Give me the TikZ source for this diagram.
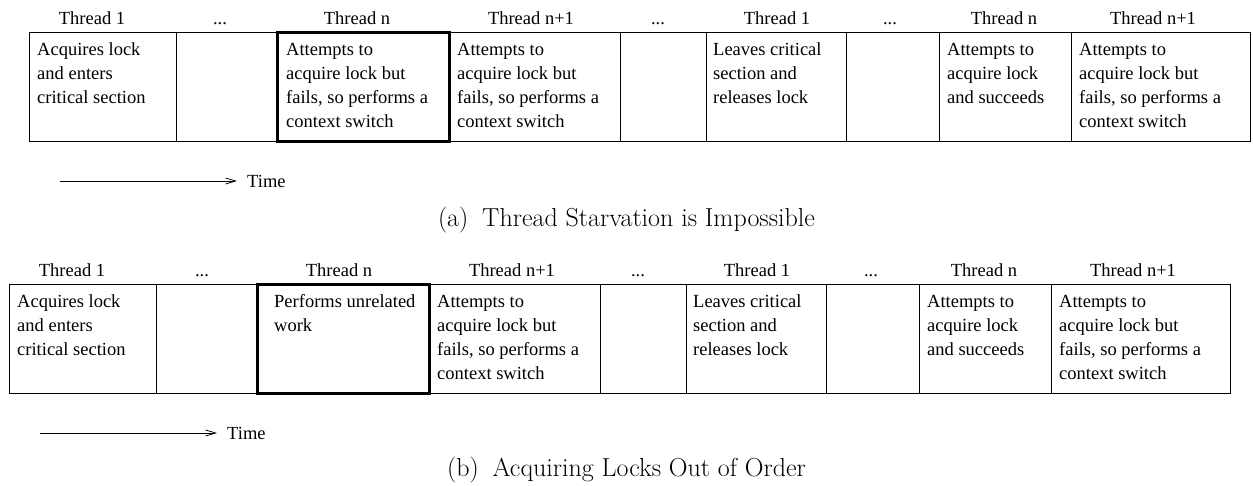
\documentclass[tikz,border=0pt]{standalone}
\usepackage{fontspec}
\newfontfamily\timesfont{Liberation Serif}
\usetikzlibrary{arrows.meta}
\newcommand\cellstrut{\rule{0pt}{13pt}}
\begin{document}
\begin{tikzpicture}[x=1pt,y=-1pt,
  cell/.style={draw, line width=1pt, rectangle, anchor=north west,
    minimum height=109pt, inner sep=0pt, outer sep=0pt},
  hot/.style={draw, line width=3pt},
  celltext/.style={anchor=north west, inner sep=0pt, align=left,
    font=\timesfont\fontsize{18.5}{24}\selectfont},
  lbl/.style={anchor=base, inner sep=0pt, font=\timesfont\fontsize{18.5}{22}\selectfont},
  timelbl/.style={anchor=west, inner sep=0pt, font=\timesfont\fontsize{18.5}{22}\selectfont},
  timearrow/.style={line width=0.8pt, -{Straight Barb[length=10pt,width=6pt]}, shorten >=10pt},
  caption/.style={anchor=base, inner sep=0pt, font=\fontsize{26}{30}\selectfont}]
\useasboundingbox (0,0) rectangle (1253,485);

% ---------- (a) ----------
\node[cell, minimum width=147pt] (a1) at (29,32) {};
\node[cell, minimum width=101pt] (a2) at (a1.north east) {};
\node[cell, minimum width=172pt] (a3) at (a2.north east) {};
\node[cell, minimum width=171pt] (a4) at (a3.north east) {};
\node[cell, minimum width=86pt]  (a5) at (a4.north east) {};
\node[cell, minimum width=140pt] (a6) at (a5.north east) {};
\node[cell, minimum width=93pt]  (a7) at (a6.north east) {};
\node[cell, minimum width=132pt] (a8) at (a7.north east) {};
\node[cell, minimum width=179pt] (a9) at (a8.north east) {};
\draw[hot] (a3.north west) rectangle (a3.south east);

\node[celltext] (a1t) at ([shift={(8,10.3)}]a1.north west) {\cellstrut Acquires lock\\and enters\\critical section};
\node[celltext] (a3t) at ([shift={(9,10.3)}]a3.north west) {\cellstrut Attempts to\\acquire lock but\\fails, so performs a\\context switch};
\node[celltext] (a4t) at ([shift={(8,10.3)}]a4.north west) {\cellstrut Attempts to\\acquire lock but\\fails, so performs a\\context switch};
\node[celltext] (a6t) at ([shift={(7,10.3)}]a6.north west) {\cellstrut Leaves critical\\section and\\releases lock};
\node[celltext] (a8t) at ([shift={(8,10.3)}]a8.north west) {\cellstrut Attempts to\\acquire lock\\and succeeds};
\node[celltext] (a9t) at ([shift={(8,10.3)}]a9.north west) {\cellstrut Attempts to\\acquire lock but\\fails, so performs a\\context switch};

\node[lbl] (a1l) at (92,24)   {Thread 1};
\node[lbl] (a2l) at (220,24)  {...};
\node[lbl] (a3l) at (357,24)  {Thread n};
\node[lbl] (a4l) at (531,24)  {Thread n+1};
\node[lbl] (a5l) at (658,24)  {...};
\node[lbl] (a6l) at (777,24)  {Thread 1};
\node[lbl] (a7l) at (890,24)  {...};
\node[lbl] (a8l) at (1004,24) {Thread n};
\node[lbl] (a9l) at (1153,24) {Thread n+1};

\coordinate (ats) at (60,181);
\node[timelbl] (atl) at (247,181) {Time};
\draw[timearrow] (ats) -- (atl.west);

\node[caption] (acap) at (626.5,226) {(a)\hspace{6pt} Thread Starvation is Impossible};

% ---------- (b) ----------
\node[cell, minimum width=147pt] (b1) at (9,284) {};
\node[cell, minimum width=101pt] (b2) at (b1.north east) {};
\node[cell, minimum width=172pt] (b3) at (b2.north east) {};
\node[cell, minimum width=171pt] (b4) at (b3.north east) {};
\node[cell, minimum width=86pt]  (b5) at (b4.north east) {};
\node[cell, minimum width=140pt] (b6) at (b5.north east) {};
\node[cell, minimum width=93pt]  (b7) at (b6.north east) {};
\node[cell, minimum width=132pt] (b8) at (b7.north east) {};
\node[cell, minimum width=179pt] (b9) at (b8.north east) {};
\draw[hot] (b3.north west) rectangle (b3.south east);

\node[celltext] (b1t) at ([shift={(8,10.3)}]b1.north west) {\cellstrut Acquires lock\\and enters\\critical section};
\node[celltext] (b3t) at ([shift={(17,10.3)}]b3.north west) {\cellstrut Performs unrelated\\work};
\node[celltext] (b4t) at ([shift={(8,10.3)}]b4.north west) {\cellstrut Attempts to\\acquire lock but\\fails, so performs a\\context switch};
\node[celltext] (b6t) at ([shift={(7,10.3)}]b6.north west) {\cellstrut Leaves critical\\section and\\releases lock};
\node[celltext] (b8t) at ([shift={(8,10.3)}]b8.north west) {\cellstrut Attempts to\\acquire lock\\and succeeds};
\node[celltext] (b9t) at ([shift={(8,10.3)}]b9.north west) {\cellstrut Attempts to\\acquire lock but\\fails, so performs a\\context switch};

\node[lbl] (b1l) at (72,276)   {Thread 1};
\node[lbl] (b2l) at (202,276)  {...};
\node[lbl] (b3l) at (339,276)  {Thread n};
\node[lbl] (b4l) at (512,276)  {Thread n+1};
\node[lbl] (b5l) at (638,276)  {...};
\node[lbl] (b6l) at (757,276)  {Thread 1};
\node[lbl] (b7l) at (871,276)  {...};
\node[lbl] (b8l) at (984,276)  {Thread n};
\node[lbl] (b9l) at (1133,276) {Thread n+1};

\coordinate (bts) at (40,433);
\node[timelbl] (btl) at (227,433) {Time};
\draw[timearrow] (bts) -- (btl.west);

\node[caption] (bcap) at (626.5,476) {(b)\hspace{6pt} Acquiring Locks Out of Order};
\end{tikzpicture}
\end{document}
